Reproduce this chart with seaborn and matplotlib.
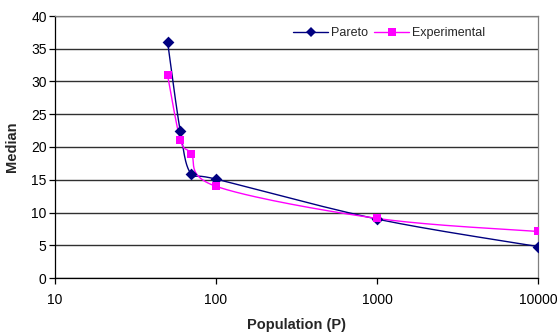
import numpy as np
import matplotlib
matplotlib.use("Agg")
import matplotlib.pyplot as plt
import seaborn as sns
import pandas as pd
from matplotlib.lines import Line2D

population = [50, 60, 70, 100, 1000, 10000]
pareto = [36.1, 22.4, 15.9, 15.1, 9.0, 4.8]
experimental = [31.0, 21.1, 19.0, 14.0, 9.1, 7.1]
series_names = ["Pareto", "Experimental"]
colors = {"Pareto": "#000080", "Experimental": "#FF00FF"}
markers = {"Pareto": "D", "Experimental": "s"}

sns.set_theme(style="white")
plt.rcParams['font.family'] = ['Liberation Sans', 'DejaVu Sans']

W, H = 5.57, 3.34
fig = plt.figure(figsize=(W, H), dpi=100)
L, R, B, T = 55/557, 538/557, 1-278/334, 1-16/334
ax = fig.add_axes([L, B, R-L, T-B])
ax.set_xscale("log")
ax.set_xlim(10, 10000)
ax.set_ylim(0, 40)

df = pd.DataFrame({
    "Population": population * 2,
    "Median": pareto + experimental,
    "Series": ["Pareto"] * len(pareto) + ["Experimental"] * len(experimental),
})

axw = (R - L) * W * 100
axh = (T - B) * H * 100

def smooth(xs, ys, n=30):
    u = (np.log10(xs) - 1) / 3 * axw
    v = np.asarray(ys) / 40 * axh
    P = np.column_stack([u, v])
    out = []
    for i in range(len(P) - 1):
        p0 = P[i - 1] if i > 0 else P[i]
        p1 = P[i]
        p2 = P[i + 1]
        p3 = P[i + 2] if i + 2 < len(P) else P[i + 1]
        c1 = p1 + (p2 - p0) / 6
        c2 = p2 - (p3 - p1) / 6
        t = np.linspace(0, 1, n)[:, None]
        seg = (1-t)**3*p1 + 3*(1-t)**2*t*c1 + 3*(1-t)*t**2*c2 + t**3*p2
        out.append(seg if i == 0 else seg[1:])
    S = np.vstack(out)
    xs_s = 10 ** (S[:, 0] / axw * 3 + 1)
    ys_s = S[:, 1] / axh * 40
    return xs_s, ys_s

for name in series_names:
    sub = df[df["Series"] == name]
    sx, sy = smooth(sub["Population"].values, sub["Median"].values)
    sns.lineplot(x=sx, y=sy, ax=ax, color=colors[name], lw=1.0, sort=False,
                 estimator=None, legend=False, zorder=3)

for name in series_names:
    sub = df[df["Series"] == name]
    sns.scatterplot(data=sub, x="Population", y="Median", ax=ax,
                    marker=markers[name], color=colors[name],
                    s=36 if name == "Pareto" else 40, edgecolor=colors[name],
                    linewidth=0, legend=False, zorder=4)

ax.set_yticks(range(0, 41, 5))
ax.set_xticks([10, 100, 1000, 10000])
ax.set_xticklabels(["10", "100", "1000", "10000"])
ax.xaxis.set_minor_locator(matplotlib.ticker.NullLocator())
ax.yaxis.grid(True, color="#303030", lw=1.0)
ax.xaxis.grid(False)
ax.tick_params(axis="both", which="major", direction="out", length=4,
               width=0.9, color="black", labelsize=10, pad=2,
               bottom=True, left=True, labelcolor="black")
ax.tick_params(axis="x", pad=7)
for s in ["left", "bottom"]:
    ax.spines[s].set_color("black")
    ax.spines[s].set_linewidth(0.9)
for s in ["right", "top"]:
    ax.spines[s].set_color("#808080")
    ax.spines[s].set_linewidth(0.9)

ax.set_xlabel("Population (P)", fontsize=10.5, fontweight="bold", labelpad=8)
ax.set_ylabel("Median", fontsize=10.5, fontweight="bold", labelpad=9)

handles = [Line2D([], [], color=colors[n], marker=markers[n], lw=1.0,
                  markersize=5 if n == "Pareto" else 5.5, markeredgewidth=0)
           for n in series_names]
ax.legend(handles, series_names, loc="center right",
          bbox_to_anchor=(0.89, (278-33)/262), borderaxespad=0,
          ncol=2, frameon=False, fontsize=9, handlelength=2.8,
          columnspacing=0.5, handletextpad=0.2, borderpad=0)

fig.savefig("out.png", dpi=100)
